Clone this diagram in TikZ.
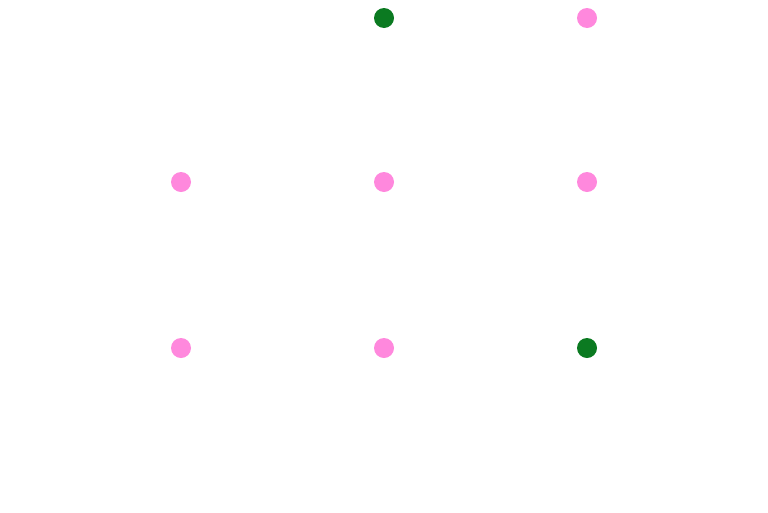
\documentclass[tikz,border=0pt]{standalone}
\definecolor{dotGreen}{RGB}{11,122,33}
\definecolor{dotPink}{RGB}{255,136,221}
\def \pointSize {10pt}

\begin{document}
\begin{tikzpicture}[x=1pt,y=-1pt]
         \useasboundingbox (0,0) rectangle (768,512);
         \fill[dotGreen] (384,18) circle (\pointSize);
         \fill[dotPink] (587,18) circle (\pointSize);
         \fill[dotPink] (181,182) circle (\pointSize);
         \fill[dotPink] (384,182) circle (\pointSize);
         \fill[dotPink] (587,182) circle (\pointSize);
         \fill[dotPink] (181,348) circle (\pointSize);
         \fill[dotPink] (384,348) circle (\pointSize);
         \fill[dotGreen] (587,348) circle (\pointSize);
      \end{tikzpicture}
\end{document}
